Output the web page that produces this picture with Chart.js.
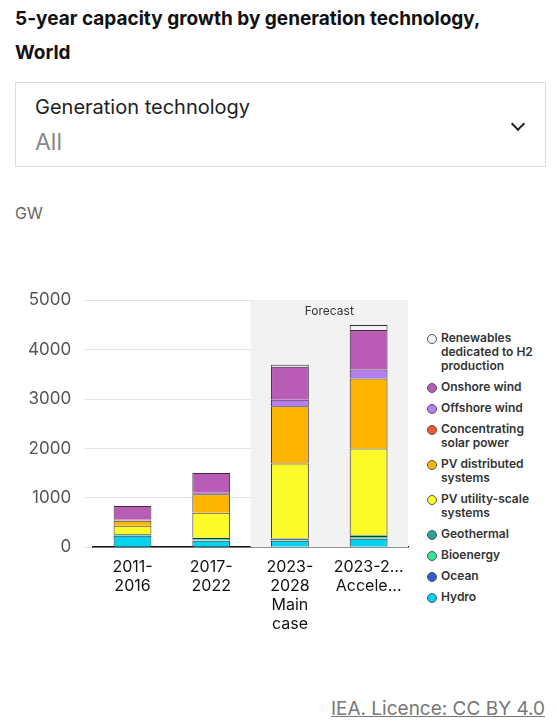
<!DOCTYPE html>
<html><head><meta charset="utf-8">
<script src="https://cdn.jsdelivr.net/npm/chart.js"></script>
<style>
body{margin:0;width:557px;height:725px;background:#fff;font-family:Inter,"Noto Sans",sans-serif;color:#111;position:relative;overflow:hidden}
h1{position:absolute;left:15px;top:2px;margin:0;font-size:19px;line-height:34px;font-weight:700;width:520px}
.dd{position:absolute;left:15px;top:82px;width:531px;height:85px;border:1px solid #ddd;box-sizing:border-box}
.dd .l{position:absolute;left:19px;top:12px;font-size:20px;color:#222}
.dd .v{position:absolute;left:19px;top:45px;font-size:23px;color:#888}
.dd .c{position:absolute;right:22px;top:36px;width:8px;height:8px;border-right:2px solid #222;border-bottom:2px solid #222;transform:rotate(45deg)}
.gw{position:absolute;left:15px;top:203px;font-size:16px;color:#666}
#wrap{position:absolute;left:0;top:276px;width:420px;height:360px}
#leg{position:absolute;left:427px;top:331px;width:115px;font-size:12px;font-weight:600;color:#333;line-height:14px}
#leg div{position:relative;padding-left:14px;margin-bottom:7px}
#leg span{position:absolute;left:0;top:3px;width:8px;height:8px;border-radius:50%;border:1px solid #555}
.src{position:absolute;right:12px;top:697px;font-size:19px;color:#777;text-decoration:underline}
</style></head><body>
<h1>5-year capacity growth by generation technology, World</h1>
<div class="dd"><div class="l">Generation technology</div><div class="v">All</div><div class="c"></div></div>
<div class="gw">GW</div>
<div id="wrap"><canvas id="c"></canvas></div>
<div id="leg"></div>
<div class="src">IEA. Licence: CC BY 4.0</div>
<script>
const categories=[["2011-","2016"],["2017-","2022"],["2023-","2028","Main","case"],["2023-2…","Accele…"]];
const seriesNames=["Hydro","Ocean","Bioenergy","Geothermal","PV utility-scale systems","PV distributed systems","Concentrating solar power","Offshore wind","Onshore wind","Renewables dedicated to H2 production"];
const legendLabels=["Renewables dedicated to H2 production","Onshore wind","Offshore wind","Concentrating solar power","PV distributed systems","PV utility-scale systems","Geothermal","Bioenergy","Ocean","Hydro"];
const colors=["#00d4f0","#2d5fd2","#2ee89a","#1fa898","#fbfb2a","#fdb500","#f2582e","#b57ef0","#b85cb5","#f2f2f2"];
const hydro=[233,133,133,173];
const ocean=[1,1,1,1];
const bioenergy=[30,50,35,55];
const geothermal=[5,8,10,12];
const pvUtility=[165,505,1515,1755];
const pvDistributed=[100,373,1160,1420];
const csp=[5,3,3,3];
const offshore=[15,30,130,178];
const onshore=[280,400,667,800];
const h2=[0,0,40,100];
const tickValues=[0,1000,2000,3000,4000,5000];
const values=[hydro,ocean,bioenergy,geothermal,pvUtility,pvDistributed,csp,offshore,onshore,h2];
document.getElementById('leg').innerHTML=legendLabels.map(n=>`<div><span style="background:${colors[seriesNames.indexOf(n)]}"></span>${n}</div>`).join('');
const shade={id:'shade',beforeDatasetsDraw(ch){const x=ch.scales.x,a=ch.chartArea,ctx=ch.ctx;const l=(x.getPixelForValue(1)+x.getPixelForValue(2))/2;ctx.save();ctx.fillStyle='#f2f2f2';ctx.fillRect(l,a.top,a.right-l,a.bottom-a.top);ctx.fillStyle='#333';ctx.font='12px Inter';ctx.textAlign='center';ctx.fillText('Forecast',(l+a.right)/2,a.top+15);ctx.restore();}};
new Chart(document.getElementById('c'),{type:'bar',
data:{labels:categories,datasets:seriesNames.map((n,i)=>({label:n,data:values[i],backgroundColor:colors[i],borderColor:'#3a2a3a',borderWidth:1,barPercentage:0.6,categoryPercentage:0.8}))},
options:{responsive:true,maintainAspectRatio:false,animation:false,
layout:{padding:{left:14,right:12,top:10}},
plugins:{legend:{display:false},tooltip:{enabled:false}},
scales:{x:{stacked:true,grid:{display:false},border:{color:'#111',width:1.5},ticks:{color:'#111',font:{size:16,family:'Inter'},maxRotation:0,autoSkip:false,padding:2}},
y:{stacked:true,min:0,max:5000,afterBuildTicks(s){s.ticks=tickValues.map(v=>({value:v}))},grid:{color:'#e4e4e4'},border:{display:false},ticks:{color:'#555',font:{size:17,family:'Inter'},padding:14,callback:v=>String(v)}}}},
plugins:[shade]});
</script></body></html>
